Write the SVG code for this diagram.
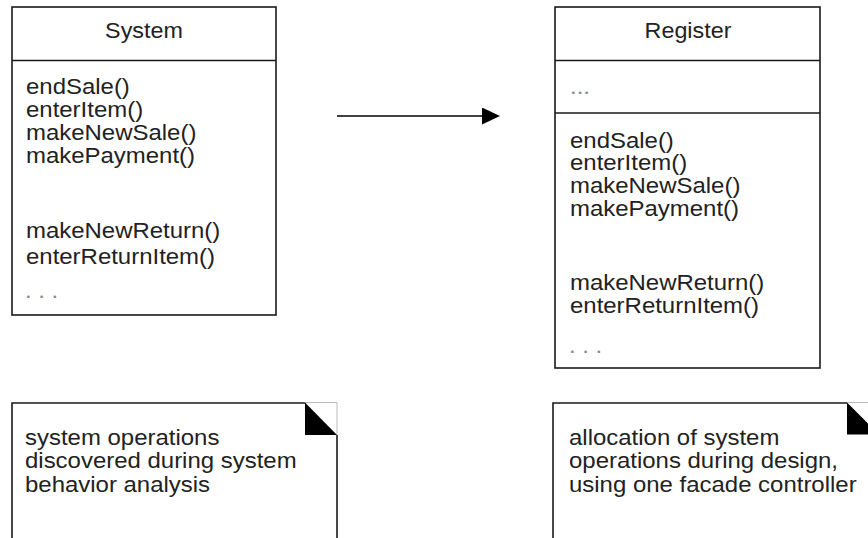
<svg xmlns="http://www.w3.org/2000/svg" width="868" height="538" viewBox="0 0 868 538">
  <style>
    .box { fill: #fff; stroke: #1a1a1a; stroke-width: 1.6; }
    .ln { stroke: #1a1a1a; stroke-width: 1.6; fill: none; }
    .faint { stroke: #bbb; stroke-width: 1; fill: none; }
    .t { font-family: "Liberation Sans", Arial, sans-serif; font-size: 21.6px; fill: #222; }
    .dots { fill: #888; }
    .mid { text-anchor: middle; }
  </style>
  <defs>
    <marker id="arrow" markerWidth="18" markerHeight="18" refX="0" refY="8.5" orient="auto" markerUnits="userSpaceOnUse">
      <polygon points="0,0 18,8.5 0,17" fill="#000"/>
    </marker>
  </defs>
  <rect width="868" height="538" fill="#fff"/>

  <g id="system">
    <rect class="box" x="12" y="7" width="264" height="308"/>
    <line class="ln" x1="12" y1="60.5" x2="276" y2="60.5"/>
    <g transform="translate(144,0) scale(1.08,1) translate(-144,0)">
      <text class="t mid" x="144" y="38.5">System</text>
    </g>
    <g transform="translate(26,0) scale(1.11,1) translate(-26,0)">
      <text class="t" x="26" y="94">endSale()</text>
      <text class="t" x="26" y="117">enterItem()</text>
      <text class="t" x="26" y="140.5">makeNewSale()</text>
      <text class="t" x="26" y="163.5">makePayment()</text>
      <text class="t" x="26" y="238">makeNewReturn()</text>
      <text class="t" x="26" y="264.5">enterReturnItem()</text>
      <text class="t dots" x="25" y="298">. . .</text>
    </g>
  </g>

  <g id="register">
    <rect class="box" x="555" y="7" width="265" height="361"/>
    <line class="ln" x1="555" y1="60.5" x2="820" y2="60.5"/>
    <line class="ln" x1="555" y1="113" x2="820" y2="113"/>
    <g transform="translate(688,0) scale(1.08,1) translate(-688,0)">
      <text class="t mid" x="688" y="38.5">Register</text>
    </g>
    <g transform="translate(570,0) scale(1.11,1) translate(-570,0)">
      <text class="t dots" x="570" y="94">...</text>
      <text class="t" x="570" y="148">endSale()</text>
      <text class="t" x="570" y="170.5">enterItem()</text>
      <text class="t" x="570" y="193.5">makeNewSale()</text>
      <text class="t" x="570" y="216">makePayment()</text>
      <text class="t" x="570" y="290.5">makeNewReturn()</text>
      <text class="t" x="570" y="313.5">enterReturnItem()</text>
      <text class="t dots" x="569" y="353">. . .</text>
    </g>
  </g>

  <g id="note-left">
    <path class="ln" d="M12,545 V403 H305"/>
    <path class="ln" d="M337,435 V545"/>
    <path class="faint" d="M305,402.5 H337 V435"/>
    <polygon points="305,402.5 337,435 305,435" fill="#000"/>
    <g transform="translate(25,0) scale(1.11,1) translate(-25,0)">
      <text class="t" x="25" y="445">system operations</text>
      <text class="t" x="25" y="468.5">discovered during system</text>
      <text class="t" x="25" y="492">behavior analysis</text>
    </g>
  </g>

  <g id="note-right">
    <path class="ln" d="M553,545 V403 H847"/>
    <path class="faint" d="M847,402.5 H870"/>
    <polygon points="847,402.5 879,434.5 847,434.5" fill="#000"/>
    <g transform="translate(569,0) scale(1.11,1) translate(-569,0)">
      <text class="t" x="569" y="445">allocation of system</text>
      <text class="t" x="569" y="468.5">operations during design,</text>
      <text class="t" x="569" y="492">using one facade controller</text>
    </g>
  </g>

  <g id="connectors">
    <line x1="337" y1="116" x2="482" y2="116" stroke="#000" stroke-width="1.6" marker-end="url(#arrow)"/>
  </g>
</svg>
